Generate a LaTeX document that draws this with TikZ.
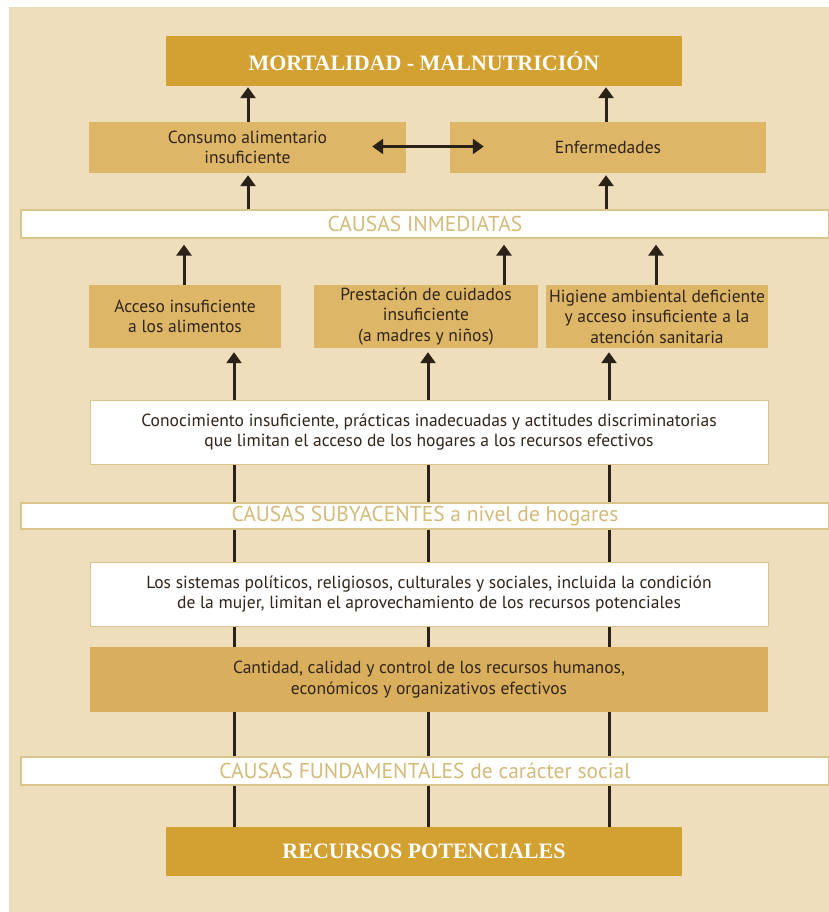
\documentclass[tikz,border=0pt]{standalone}
\usepackage{fontspec}
\setmainfont{PT Sans}
\newfontfamily\titlefont{Liberation Serif}
\usetikzlibrary{arrows.meta,calc}
\definecolor{bg}{HTML}{EFDEBB}
\definecolor{gold}{HTML}{D3A132}
\definecolor{tan}{HTML}{DEB668}
\definecolor{tandk}{HTML}{D9AF5E}
\definecolor{bandtxt}{HTML}{D4BB7A}
\definecolor{bandline}{HTML}{D9C48C}
\definecolor{ink}{HTML}{2A2118}
\definecolor{txt}{HTML}{30251A}
\begin{document}
\begin{tikzpicture}[x=1pt,y=-1pt,
  boxbase/.style={inner sep=0pt, align=center, font=\fontsize{17.5}{20.5}\selectfont, text=txt},
  titlebox/.style={fill=gold, text=white, font=\titlefont\bfseries\fontsize{22}{26}\selectfont, inner sep=0pt},
  tanbox/.style={boxbase, fill=tan},
  whitebox/.style={boxbase, fill=white, draw=bandline, line width=1pt},
  band/.style={fill=white, draw=bandline, line width=1.2pt, text=bandtxt, font=\fontsize{21.5}{24}\selectfont, inner sep=0pt, minimum width=808pt},
  up/.style={draw=ink, line width=3pt, -{Triangle[width=15pt,length=11pt]}},
  both/.style={draw=ink, line width=3pt, {Triangle[width=15pt,length=11pt]}-{Triangle[width=15pt,length=11pt]}},
  link/.style={draw=ink, line width=3pt},
]
\useasboundingbox (0,0) rectangle (829,912);
\fill[white] (0,0) rectangle (829,912);
\fill[bg] (9,7) rectangle (829,912);

% columns
\coordinate (xA) at (248,0);
\coordinate (xB) at (606,0);
\coordinate (xC) at (184,0);
\coordinate (xD) at (504,0);
\coordinate (xE) at (656,0);
\coordinate (xF) at (234,0);
\coordinate (xG) at (428,0);
\coordinate (xH) at (609,0);

% nodes
\node[titlebox, minimum width=516pt, minimum height=50pt] (mort) at (424,61) {MORTALIDAD - MALNUTRICIÓN};
\node[tanbox, minimum width=317pt, minimum height=51pt] (cons) at (247.5,147.5) {Consumo alimentario\\insuficiente};
\node[tanbox, minimum width=316pt, minimum height=51pt] (enf) at (608,147.5) {Enfermedades};
\node[band, minimum height=28pt] (b1) at (425,224) {CAUSAS INMEDIATAS};
\node[tanbox, minimum width=192pt, minimum height=63pt] (acc) at (185,316.5) {Acceso insuficiente\\a los alimentos};
\node[tanbox, minimum width=224pt, minimum height=63pt] (pres) at (426,316.5) {Prestación de cuidados\\insuficiente\\(a madres y niños)};
\node[tanbox, minimum width=222pt, minimum height=63pt] (hig) at (657,316.5) {Higiene ambiental deficiente\\y acceso insuficiente a la\\atención sanitaria};
\node[whitebox, minimum width=678pt, minimum height=64pt] (con) at (429,432) {Conocimiento insuficiente, prácticas inadecuadas y actitudes discriminatorias\\que limitan el acceso de los hogares a los recursos efectivos};
\node[band, minimum height=26pt] (b2) at (425,516) {CAUSAS SUBYACENTES a nivel de hogares};
\node[whitebox, minimum width=678pt, minimum height=64pt] (sis) at (429,594) {Los sistemas políticos, religiosos, culturales y sociales, incluida la condición\\de la mujer, limitan el aprovechamiento de los recursos potenciales};
\node[boxbase, fill=tandk, minimum width=678pt, minimum height=65pt] (can) at (429,679.5) {Cantidad, calidad y control de los recursos humanos,\\económicos y organizativos efectivos};
\node[band, minimum height=28pt] (b3) at (425,771) {CAUSAS FUNDAMENTALES de carácter social};
\node[titlebox, minimum width=516pt, minimum height=49pt] (rec) at (424,851.5) {RECURSOS POTENCIALES};

% connectors
\draw[up, shorten >=1pt] (cons.north -| xA) -- (mort.south -| xA);
\draw[up, shorten >=1pt] (enf.north -| xB) -- (mort.south -| xB);
\draw[both] ($(cons.east)+(-34,-1)$) -- ($(enf.west)+(34,-1)$);
\draw[up, shorten >=2pt] (b1.north -| xA) -- (cons.south -| xA);
\draw[up, shorten >=2pt] (b1.north -| xB) -- (enf.south -| xB);
\draw[up, shorten >=6pt] (acc.north -| xC) -- (b1.south -| xC);
\draw[up, shorten >=6pt] (pres.north -| xD) -- (b1.south -| xD);
\draw[up, shorten >=6pt] (hig.north -| xE) -- (b1.south -| xE);
\draw[up, shorten >=4pt] (con.north -| xF) -- (acc.south -| xF);
\draw[up, shorten >=4pt] (con.north -| xG) -- (pres.south -| xG);
\draw[up, shorten >=4pt] (con.north -| xH) -- (hig.south -| xH);
\foreach \c in {xF,xG,xH}{
  \draw[link] (con.south -| \c) -- (b2.north -| \c);
  \draw[link] (b2.south -| \c) -- (sis.north -| \c);
  \draw[link] (sis.south -| \c) -- (can.north -| \c);
  \draw[link] (can.south -| \c) -- (b3.north -| \c);
  \draw[link] (b3.south -| \c) -- (rec.north -| \c);
}
\end{tikzpicture}
\end{document}
